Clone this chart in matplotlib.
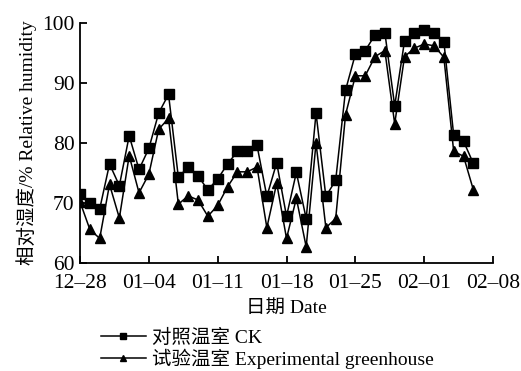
import matplotlib
matplotlib.use('Agg')
from matplotlib import pyplot as plt

plt.rcParams['font.family'] = ['Liberation Serif', 'Noto Sans CJK SC']
plt.rcParams['axes.unicode_minus'] = False

# 天数（从12-28开始）
days = list(range(41))

# 对照温室 CK
ck = [71.5, 70.0, 69.0, 76.5, 72.9, 81.2, 75.6, 79.1, 85.0, 88.1,
      74.3, 76.0, 74.5, 72.2, 74.0, 76.5, 78.6, 78.6, 79.6, 71.1,
      76.7, 67.8, 75.1, 67.4, 85.0, 71.1, 73.8, 88.8, 94.8, 95.4,
      98.0, 98.4, 86.2, 97.0, 98.4, 98.8, 98.4, 96.9, 81.3, 80.3,
      76.6]

# 试验温室 Experimental greenhouse
exp = [70.2, 65.6, 64.1, 73.1, 67.5, 77.9, 71.7, 74.8, 82.3, 84.1,
       69.8, 71.2, 70.5, 67.8, 69.6, 72.7, 75.2, 75.2, 76.0, 65.9,
       73.3, 64.1, 70.8, 62.7, 80.0, 65.9, 67.4, 84.7, 91.2, 91.2,
       94.4, 95.4, 83.2, 94.4, 95.8, 96.5, 96.2, 94.3, 78.6, 77.8,
       72.2]

tick_pos = [0, 7, 14, 21, 28, 35, 42]
tick_labels = ['12–28', '01–04', '01–11', '01–18', '01–25', '02–01', '02–08']

fig = plt.figure(figsize=(5.21, 3.71), dpi=100)
ax = fig.add_axes([0.1536, 0.291, 0.7927, 0.647])

ax.plot(days, ck, color='black', linewidth=1.1, marker='s', markersize=7,
        label='对照温室 CK')
ax.plot(days, exp, color='black', linewidth=1.1, marker='^', markersize=7,
        label='试验温室 Experimental greenhouse')

ax.set_xlim(0, 42)
ax.set_ylim(60, 100)
ax.set_yticks([60, 70, 80, 90, 100])
ax.set_xticks(tick_pos)
ax.set_xticklabels(tick_labels)

ax.spines['top'].set_visible(False)
ax.spines['right'].set_visible(False)
ax.spines['left'].set_linewidth(1.3)
ax.spines['bottom'].set_linewidth(1.3)
ax.tick_params(direction='in', length=5, width=1.3, labelsize=15.5)
ax.tick_params(axis='x', pad=8)
ax.tick_params(axis='y', pad=4)

ax.set_xlabel('日期 Date', fontsize=14, labelpad=5)
ax.set_ylabel('相对湿度/% Relative humidity', fontsize=14, labelpad=4)

fig.legend(loc='upper left', bbox_to_anchor=(0.175, 0.14), frameon=False,
           fontsize=14, handlelength=2.3, handletextpad=0.35,
           labelspacing=0.1, borderpad=0, markerscale=0.7)

fig.savefig('out.png', dpi=100)
